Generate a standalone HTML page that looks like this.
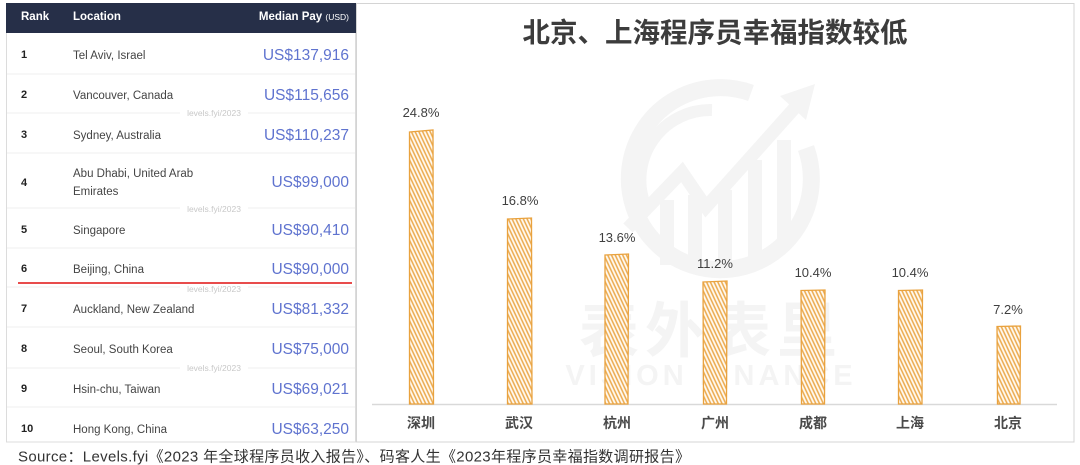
<!DOCTYPE html>
<html><head><meta charset="utf-8"><style>
html,body{margin:0;padding:0;background:#fff;width:1080px;height:465px;overflow:hidden}
svg{display:block}
.l{font-family:"Liberation Sans","Noto Sans CJK SC",sans-serif}
.c{font-family:"Liberation Sans","Noto Sans CJK SC",sans-serif}
</style></head><body>
<svg width="1080" height="465" viewBox="0 0 1080 465" xmlns="http://www.w3.org/2000/svg">
<defs>
<pattern id="h" patternUnits="userSpaceOnUse" width="3.4" height="4" patternTransform="rotate(-25)">
<rect width="3.4" height="4" fill="#fffaf2"/>
<line x1="1" y1="0" x2="1" y2="4" stroke="#eba84a" stroke-width="1.5"/>
</pattern>
</defs>
<rect width="1080" height="465" fill="#fff"/>

<!-- LEFT TABLE -->
<rect x="6.5" y="3.5" width="349" height="438.5" fill="#fff" stroke="#dcdcdc" stroke-width="1"/>
<rect x="6" y="3" width="350" height="30" fill="#262f48"/>
<g class="l" font-weight="bold" fill="#fff" font-size="11.5">
<text x="21" y="20">Rank</text>
<text x="73" y="20">Location</text>
<text x="349" y="20" text-anchor="end">Median Pay <tspan font-size="8.5" font-weight="normal">(USD)</tspan></text>
</g>
<g stroke="#efefef" stroke-width="1">
<line x1="7" y1="74" x2="355" y2="74"/>
<line x1="7" y1="113" x2="355" y2="113"/>
<line x1="7" y1="153" x2="355" y2="153"/>
<line x1="7" y1="208" x2="355" y2="208"/>
<line x1="7" y1="248" x2="355" y2="248"/>
<line x1="7" y1="287" x2="355" y2="287"/>
<line x1="7" y1="327" x2="355" y2="327"/>
<line x1="7" y1="368" x2="355" y2="368"/>
<line x1="7" y1="407" x2="355" y2="407"/>
</g>
<g fill="#fff">
<rect x="180" y="108" width="68" height="10"/>
<rect x="180" y="204" width="68" height="10"/>
<rect x="180" y="284" width="68" height="9"/>
<rect x="180" y="363" width="68" height="10"/>
</g>
<g class="l" fill="#c8c8c8" font-size="8.5" text-anchor="middle">
<text x="214" y="116">levels.fyi/2023</text>
<text x="214" y="212">levels.fyi/2023</text>
<text x="214" y="292">levels.fyi/2023</text>
<text x="214" y="371">levels.fyi/2023</text>
</g>
<line x1="18" y1="283" x2="352" y2="283" stroke="#e01010" stroke-width="1.5"/>
<g class="l" font-size="11" font-weight="bold" fill="#222">
<text x="21" y="58">1</text>
<text x="21" y="98">2</text>
<text x="21" y="138">3</text>
<text x="21" y="186">4</text>
<text x="21" y="233">5</text>
<text x="21" y="272">6</text>
<text x="21" y="312">7</text>
<text x="21" y="352">8</text>
<text x="21" y="392">9</text>
<text x="21" y="432">10</text>
</g>
<g class="l" font-size="11.5" fill="#444">
<text x="73" y="59">Tel Aviv, Israel</text>
<text x="73" y="99">Vancouver, Canada</text>
<text x="73" y="139">Sydney, Australia</text>
<text x="73" y="177">Abu Dhabi, United Arab</text>
<text x="73" y="195">Emirates</text>
<text x="73" y="234">Singapore</text>
<text x="73" y="273">Beijing, China</text>
<text x="73" y="313">Auckland, New Zealand</text>
<text x="73" y="353">Seoul, South Korea</text>
<text x="73" y="393">Hsin-chu, Taiwan</text>
<text x="73" y="433">Hong Kong, China</text>
</g>
<g class="l" font-size="15.5" fill="#5f73cf" text-anchor="end">
<text x="349" y="60">US$137,916</text>
<text x="349" y="100">US$115,656</text>
<text x="349" y="140">US$110,237</text>
<text x="349" y="187">US$99,000</text>
<text x="349" y="235">US$90,410</text>
<text x="349" y="274">US$90,000</text>
<text x="349" y="314">US$81,332</text>
<text x="349" y="354">US$75,000</text>
<text x="349" y="394">US$69,021</text>
<text x="349" y="434">US$63,250</text>
</g>

<!-- RIGHT CHART PANEL -->
<rect x="356.5" y="3.5" width="717.5" height="438.5" fill="#fff" stroke="#d4d4d4" stroke-width="1"/>

<!-- watermark -->
<g fill="none" stroke="#f4f4f4" stroke-linecap="butt">
<path d="M 751 93 A 91 91 0 1 0 806 148" stroke-width="17"/>
<path d="M 712 110 A 70 70 0 0 0 645 205" stroke-width="12"/>
<polyline points="628,228 682,172 706,207 800,102" stroke-width="13"/>
</g>
<polygon points="815,84 780,96 806,120" fill="#f4f4f4"/>
<g fill="#f4f4f4">
<rect x="660" y="200" width="14" height="65"/>
<rect x="688" y="195" width="14" height="75"/>
<rect x="718" y="190" width="14" height="80"/>
<rect x="748" y="160" width="14" height="100"/>
<rect x="777" y="140" width="14" height="100"/>
</g>
<text x="711" y="352" text-anchor="middle" font-family="'Noto Sans CJK SC',sans-serif" font-weight="bold" font-size="60" fill="#f4f4f4" letter-spacing="6">表外表里</text>
<text x="711" y="385" text-anchor="middle" font-family="'Liberation Sans',sans-serif" font-weight="bold" font-size="29" fill="#f4f4f4" letter-spacing="4">VISION FINANCE</text>

<!-- title -->
<text x="715" y="42" text-anchor="middle" font-family="'Noto Sans CJK SC',sans-serif" font-weight="bold" font-size="27.5" fill="#3c3c3c">北京、上海程序员幸福指数较低</text>

<!-- axis -->
<line x1="372" y1="404.5" x2="1057" y2="404.5" stroke="#d9d9d9" stroke-width="1.5"/>

<!-- bars -->
<g fill="url(#h)" stroke="#e9a23e" stroke-width="1.3">
<path d="M409.5 132 L433 130 L433.5 404 L409.5 404 Z"/>
<path d="M507.5 219 L531.5 218 L532 404 L507.5 404 Z"/>
<path d="M605 255 L628.5 254 L628 404 L605 404 Z"/>
<path d="M703 282 L727 281 L726.5 404 L703.5 404 Z"/>
<path d="M801 290.5 L825 290 L824.5 404 L801.5 404 Z"/>
<path d="M898.5 290.5 L922.5 290 L922 404 L898.5 404 Z"/>
<path d="M997 326.5 L1020.5 326 L1020 404 L997.5 404 Z"/>
</g>

<!-- value labels -->
<g class="l" font-size="13" fill="#3f3f3f" text-anchor="middle">
<text x="421" y="117">24.8%</text>
<text x="520" y="205">16.8%</text>
<text x="617" y="242">13.6%</text>
<text x="715" y="268">11.2%</text>
<text x="813" y="277">10.4%</text>
<text x="910" y="277">10.4%</text>
<text x="1008" y="314">7.2%</text>
</g>

<!-- category labels -->
<g font-family="'Noto Sans CJK SC',sans-serif" font-size="14" font-weight="bold" fill="#4a4a4a" text-anchor="middle">
<text x="421" y="428">深圳</text>
<text x="519" y="428">武汉</text>
<text x="617" y="428">杭州</text>
<text x="715" y="428">广州</text>
<text x="813" y="428">成都</text>
<text x="910" y="428">上海</text>
<text x="1008" y="428">北京</text>
</g>

<!-- source -->
<text x="18" y="461.5" class="c" font-size="15" fill="#333" textLength="672" lengthAdjust="spacing">Source：Levels.fyi《2023 年全球程序员收入报告》、码客人生《2023年程序员幸福指数调研报告》</text>
</svg>
</body></html>
